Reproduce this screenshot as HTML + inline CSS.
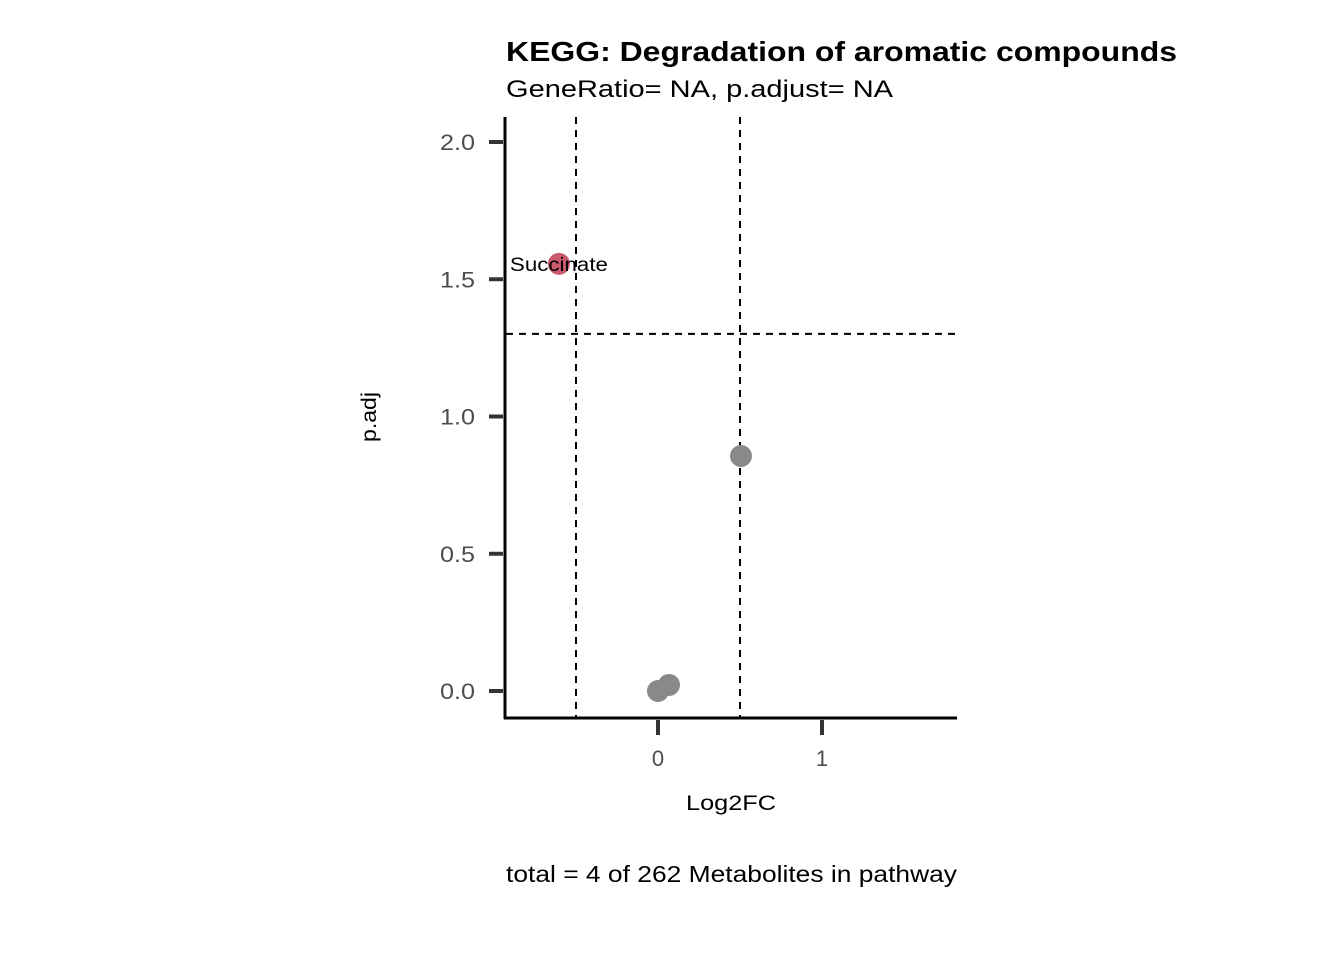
<!DOCTYPE html>
<html><head><meta charset="utf-8"><style>
body{margin:0;background:#fff;font-family:"Liberation Sans",sans-serif}
</style></head><body>
<svg width="1344" height="960" xmlns="http://www.w3.org/2000/svg" font-family="Liberation Sans, sans-serif">
<text x="506" y="61" font-size="28" font-weight="bold" textLength="671" lengthAdjust="spacingAndGlyphs">KEGG: Degradation of aromatic compounds</text>
<text x="506" y="97" font-size="24" textLength="387" lengthAdjust="spacingAndGlyphs">GeneRatio= NA, p.adjust= NA</text>
<g id="plot"></g>
<text x="686" y="810" font-size="21" textLength="90" lengthAdjust="spacingAndGlyphs">Log2FC</text>
<text transform="translate(377,392) rotate(90)" font-size="21" textLength="50" lengthAdjust="spacingAndGlyphs" style="display:none">p.adj</text>
<text transform="translate(376,442) rotate(-90)" font-size="21" textLength="50" lengthAdjust="spacingAndGlyphs">p.adj</text>
<text x="506" y="882" font-size="23" textLength="451" lengthAdjust="spacingAndGlyphs">total = 4 of 262 Metabolites in pathway</text>
</svg>
<script>
const labels=["Succinate","","",""];
const xs=[-0.604,0.506,0,0.067];
const ys=[1.556,0.856,0,0.022];
const sig=[true,false,false,false];
const xTicks=[0,1];
const yTicks=[0,0.5,1.0,1.5,2.0];
const vlines=[-0.5,0.5];
const hline=1.301;
const X=v=>658+v*164, Y=v=>691-v*274.5;
const NS="http://www.w3.org/2000/svg", g=document.getElementById('plot');
function mk(t,a){const e=document.createElementNS(NS,t);for(const k in a)e.setAttribute(k,a[k]);g.appendChild(e);return e;}
let e;
e=mk('line',{x1:505,y1:117,x2:505,y2:719,stroke:'#000','stroke-width':3});


e=mk('line',{x1:504,y1:718,x2:957,y2:718,stroke:'#000','stroke-width':3});


yTicks.forEach(v=>{
 e=mk('line',{x1:489,x2:503,y1:Y(v),y2:Y(v),stroke:'#333','stroke-width':4});
 
 
 e=mk('text',{x:440,y:Y(v)+8,'font-size':22,fill:'#4d4d4d',textLength:35,lengthAdjust:'spacingAndGlyphs'});e.textContent=v.toFixed(1);
 
 
});
xTicks.forEach(v=>{
 e=mk('line',{x1:X(v),x2:X(v),y1:720,y2:735,stroke:'#333','stroke-width':4});
 
 
 e=mk('text',{x:X(v),y:766,'font-size':22,fill:'#4d4d4d','text-anchor':'middle'});e.textContent=v;
 
 
});
vlines.forEach(v=>{
 e=mk('line',{x1:X(v),x2:X(v),y1:117,y2:717,stroke:'#000','stroke-width':2,'stroke-dasharray':'7,6'});
 
 
});
e=mk('line',{x1:506,x2:957,y1:Y(hline),y2:Y(hline),stroke:'#000','stroke-width':2,'stroke-dasharray':'7,6'});


xs.forEach((v,i)=>{
 e=mk('circle',{cx:X(v),cy:Y(ys[i]),r:11,fill:sig[i]?'#c85a6c':'#898989'});
 
 
 if(labels[i]){
  e=mk('text',{x:X(v)-49,y:Y(ys[i])+7,'font-size':19,textLength:98,lengthAdjust:'spacingAndGlyphs'});e.textContent=labels[i];
  
  
 }
});
</script>
</body></html>
